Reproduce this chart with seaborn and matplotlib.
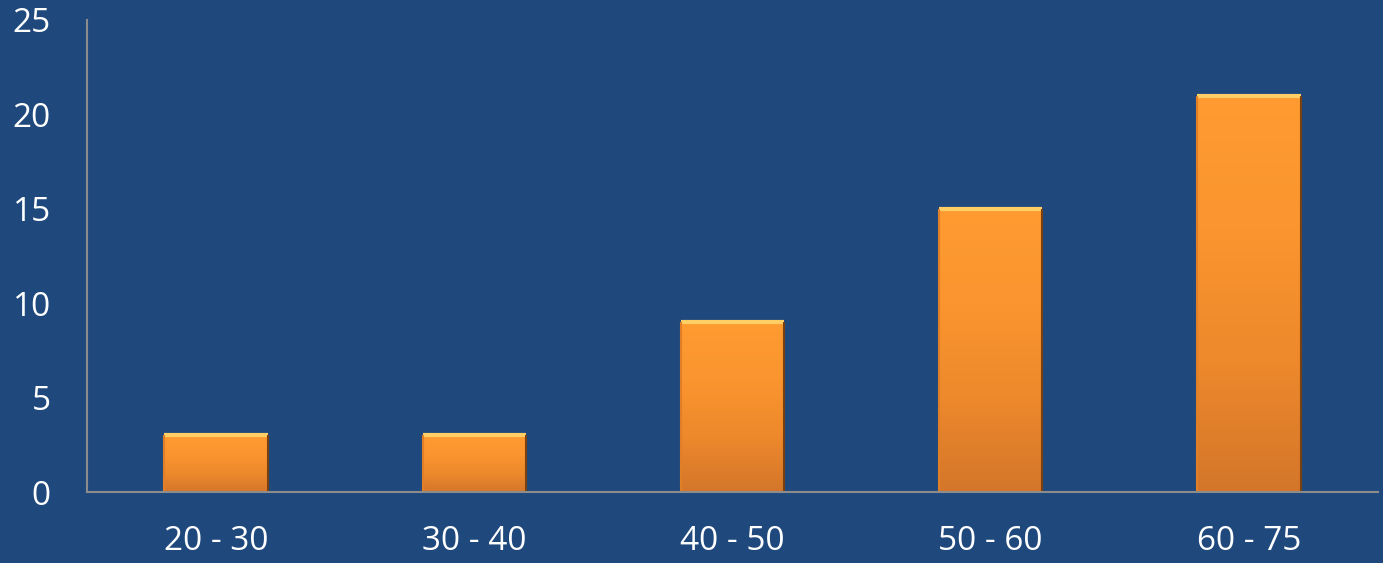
import numpy as np
import matplotlib
matplotlib.use("Agg")
import matplotlib.pyplot as plt
import seaborn as sns
import pandas as pd

age_groups = ["20 - 30", "30 - 40", "40 - 50", "50 - 60", "60 - 75"]
counts = [3, 3, 9, 15, 21]

BG = "#1F497D"
ORANGE = "#F7962F"

sns.set_style("white")
plt.rcParams["font.family"] = ["Open Sans", "DejaVu Sans"]

df = pd.DataFrame({"group": age_groups, "count": counts})

fig = plt.figure(figsize=(13.83, 5.63), dpi=100)
fig.patch.set_facecolor(BG)
ax = fig.add_axes([0.0629, 0.1261, 0.9335, 0.8384])
ax.set_facecolor(BG)

sns.barplot(data=df, x="group", y="count", color=ORANGE, width=0.4,
            saturation=1, edgecolor="none", ax=ax)

# vertical gradient + bevel look on each bar
grad = np.linspace(0, 1, 256).reshape(-1, 1)
cmap = matplotlib.colors.LinearSegmentedColormap.from_list(
    "bar", ["#D4762A", "#EE892C", "#FA952F", "#FF9B31"])
for p in ax.patches:
    x0, y0 = p.get_x(), p.get_y()
    w, h = p.get_width(), p.get_height()
    im = ax.imshow(grad, extent=[x0, x0 + w, y0, y0 + h], origin="lower",
                   aspect="auto", cmap=cmap, zorder=p.get_zorder() + 0.1)
    im.set_clip_path(p)
    ax.plot([x0, x0 + w], [y0 + h, y0 + h], color="#FFCF66", lw=3,
            zorder=p.get_zorder() + 0.2, solid_capstyle="butt")
    ax.plot([x0 + w, x0 + w], [y0, y0 + h], color="#7A400F", lw=1.5,
            zorder=p.get_zorder() + 0.2, solid_capstyle="butt")
    ax.plot([x0, x0], [y0, y0 + h], color="#E07F28", lw=1.5,
            zorder=p.get_zorder() + 0.2, solid_capstyle="butt")

ax.set_xlim(-0.5, len(age_groups) - 0.5)
ax.set_ylim(0, 25)
ax.set_yticks([0, 5, 10, 15, 20, 25])
ax.set_xlabel("")
ax.set_ylabel("")

for s in ["top", "right"]:
    ax.spines[s].set_visible(False)
for s in ["left", "bottom"]:
    ax.spines[s].set_color("#8C8C8C")
    ax.spines[s].set_linewidth(1.5)
    ax.spines[s].set_zorder(5)

ax.tick_params(axis="both", length=0, colors="white", labelsize=24)
ax.tick_params(axis="y", pad=26)
ax.tick_params(axis="x", pad=24)

fig.savefig("out.png", dpi=100, facecolor=BG)
